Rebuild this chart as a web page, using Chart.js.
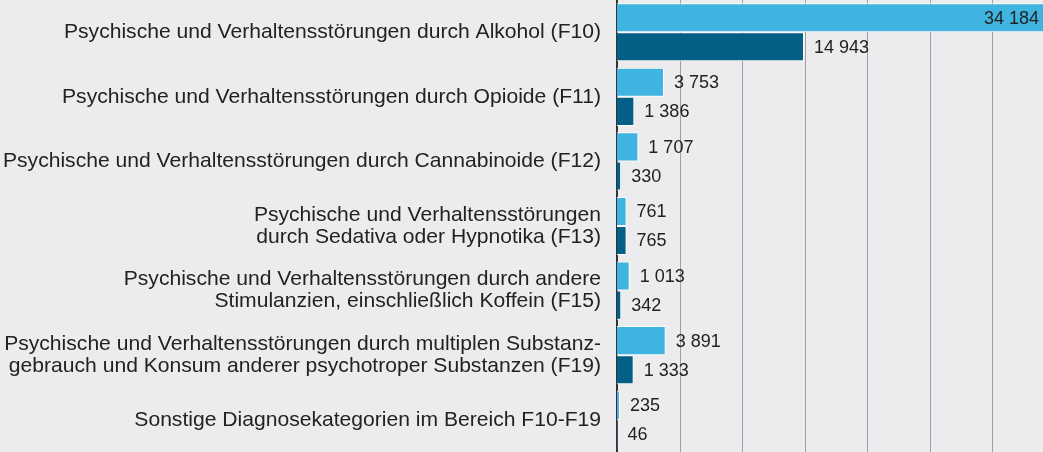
<!DOCTYPE html>
<html>
<head>
<meta charset="utf-8">
<script src="https://cdn.jsdelivr.net/npm/chart.js@4"></script>
<style>
  html, body { margin: 0; padding: 0; background: #ececee; }
  #wrap { width: 1043px; height: 452px; position: relative; }
</style>
</head>
<body>
<div id="wrap"><canvas id="chart"></canvas></div>
<script>
// Diagnosis categories (F10-F19)
const categories = [
    'Psychische und Verhaltensstörungen durch Alkohol (F10)',
    'Psychische und Verhaltensstörungen durch Opioide (F11)',
    'Psychische und Verhaltensstörungen durch Cannabinoide (F12)',
    ['Psychische und Verhaltensstörungen', 'durch Sedativa oder Hypnotika (F13)'],
    ['Psychische und Verhaltensstörungen durch andere', 'Stimulanzien, einschließlich Koffein (F15)'],
    ['Psychische und Verhaltensstörungen durch multiplen Substanz-', 'gebrauch und Konsum anderer psychotroper Substanzen (F19)'],
    'Sonstige Diagnosekategorien im Bereich F10-F19'
];
const seriesLight = [34184, 3753, 1707, 761, 1013, 3891, 235];
const seriesDark = [14943, 1386, 330, 765, 342, 1333, 46];
const gridValues = [5000, 10000, 15000, 20000, 25000, 30000];

const fontFamily = '"Liberation Sans", Arial, Helvetica, sans-serif';

function formatNumber(v) {
    return String(v).replace(/\B(?=(\d{3})+(?!\d))/g, ' ');
}

// Vertical grid lines behind the bars
const gridLines = {
    id: 'gridLines',
    beforeDatasetsDraw(chart) {
        const ctx = chart.ctx;
        const area = chart.chartArea;
        const x = chart.scales.x;
        ctx.save();
        ctx.strokeStyle = '#a0a0a4';
        ctx.lineWidth = 1;
        gridValues.forEach(v => {
            const px = Math.round(x.getPixelForValue(v)) + 0.5;
            ctx.beginPath();
            ctx.moveTo(px, area.top);
            ctx.lineTo(px, area.bottom);
            ctx.stroke();
        });
        ctx.restore();
    }
};

// Draw value labels next to each bar
const valueLabels = {
    id: 'valueLabels',
    afterDatasetsDraw(chart) {
        const ctx = chart.ctx;
        const area = chart.chartArea;
        ctx.save();
        ctx.font = '18px ' + fontFamily;
        ctx.fillStyle = '#222';
        ctx.textBaseline = 'middle';
        chart.data.datasets.forEach((ds, i) => {
            const meta = chart.getDatasetMeta(i);
            meta.data.forEach((bar, j) => {
                const text = formatNumber(ds.data[j]);
                const w = ctx.measureText(text).width;
                if (bar.x + 10 + w > area.right) {
                    ctx.textAlign = 'right';
                    ctx.fillText(text, area.right - 4, bar.y + 1);
                } else {
                    ctx.textAlign = 'left';
                    ctx.fillText(text, bar.x + 10, bar.y + 1);
                }
            });
        });
        ctx.restore();
    }
};

new Chart(document.getElementById('chart'), {
    type: 'bar',
    data: {
        labels: categories,
        datasets: [
            {
                data: seriesLight,
                backgroundColor: '#40b4e0',
                borderColor: '#ffffff',
                borderWidth: 1,
                categoryPercentage: 0.9,
                barPercentage: 1
            },
            {
                data: seriesDark,
                backgroundColor: '#045f87',
                borderColor: '#ffffff',
                borderWidth: 1,
                categoryPercentage: 0.9,
                barPercentage: 1
            }
        ]
    },
    options: {
        indexAxis: 'y',
        responsive: true,
        maintainAspectRatio: false,
        animation: false,
        layout: { padding: 0 },
        plugins: {
            legend: { display: false },
            tooltip: { enabled: false }
        },
        scales: {
            x: {
                min: 0,
                max: 34040,
                ticks: { display: false },
                grid: { display: false, drawTicks: false },
                border: { display: false }
            },
            y: {
                afterFit: s => { s.width = 617; s.paddingTop = 0; s.paddingBottom = 0; },
                ticks: {
                    color: '#222',
                    font: { family: fontFamily, size: 21.1, lineHeight: 1.04 },
                    padding: 16
                },
                grid: { display: false, drawTicks: false },
                border: { display: true, color: '#333', width: 2 }
            }
        }
    },
    plugins: [gridLines, valueLabels]
});
</script>
</body>
</html>
